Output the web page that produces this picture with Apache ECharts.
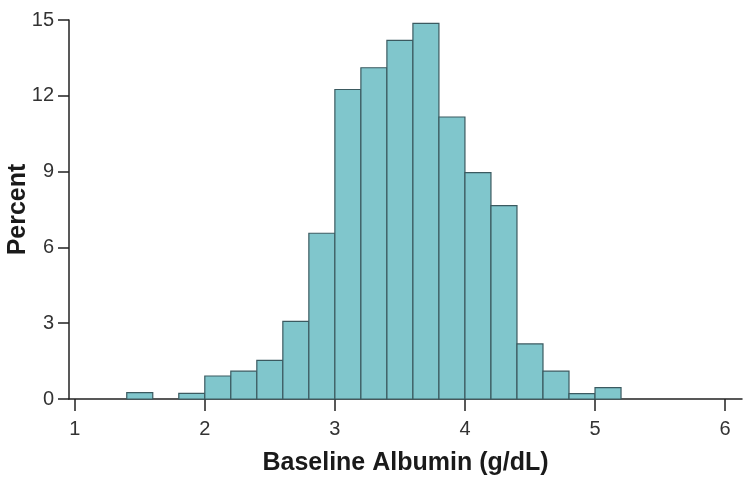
<!DOCTYPE html>
<html>
<head>
<meta charset="utf-8">
<script src="https://cdn.jsdelivr.net/npm/echarts@6/dist/echarts.min.js"></script>
<style>
  html, body { margin: 0; padding: 0; background: #fff; }
  #chart { width: 751px; height: 485px; }
</style>
</head>
<body>
<div id="chart"></div>
<script>
  // histogram bins (left edge, g/dL) and percent of patients
  const binStarts = [1.4, 1.8, 2.0, 2.2, 2.4, 2.6, 2.8, 3.0, 3.2, 3.4, 3.6, 3.8, 4.0, 4.2, 4.4, 4.6, 4.8, 5.0]
  const percents = [0.25, 0.22, 0.91, 1.1, 1.53, 3.07, 6.56, 12.25, 13.11, 14.19, 14.87, 11.16, 8.96, 7.65, 2.18, 1.1, 0.21, 0.45]
  const binWidth = 0.2
  const xTicks = [1, 2, 3, 4, 5, 6]
  const yTicks = [0, 3, 6, 9, 12, 15]

  const chart = echarts.init(document.getElementById('chart'), null, { renderer: 'canvas' })

  const axisColor = '#222'
  const font = 'Liberation Sans, Arial, sans-serif'

  const option = {
    animation: false,
    grid: { left: 69, right: 9, top: 20, bottom: 86, containLabel: false, outerBoundsMode: 'none' },
    xAxis: {
      type: 'value',
      min: 0.956,
      max: 6.13,
      name: 'Baseline Albumin (g/dL)',
      nameLocation: 'middle',
      nameGap: 52,
      nameTextStyle: { fontFamily: font, fontSize: 25, fontWeight: 'bold', color: '#1a1a1a' },
      splitLine: { show: false },
      axisLine: { lineStyle: { color: axisColor, width: 1.5 } },
      axisTick: { length: 12, customValues: xTicks, lineStyle: { color: axisColor, width: 1.5 } },
      axisLabel: { customValues: xTicks, margin: 20, fontFamily: font, fontSize: 20, color: '#333' }
    },
    yAxis: {
      type: 'value',
      min: 0,
      max: 15,
      interval: 3,
      name: 'Percent',
      nameLocation: 'middle',
      nameGap: 38,
      nameMoveOverlap: false,
      nameTextStyle: { fontFamily: font, fontSize: 25, fontWeight: 'bold', color: '#1a1a1a' },
      splitLine: { show: false },
      axisLine: { show: true, lineStyle: { color: axisColor, width: 1.5 } },
      axisTick: { show: true, length: 11, customValues: yTicks, lineStyle: { color: axisColor, width: 1.5 } },
      axisLabel: { customValues: yTicks, margin: 15, fontFamily: font, fontSize: 20, color: '#333' }
    },
    series: [
      {
        type: 'custom',
        data: binStarts.map((s, i) => [s, s + binWidth, percents[i]]),
        encode: { x: [0, 1], y: 2 },
        renderItem: (params, api) => {
          const p0 = api.coord([api.value(0), 0])
          const p1 = api.coord([api.value(1), api.value(2)])
          return {
            type: 'rect',
            shape: { x: p0[0], y: p1[1], width: p1[0] - p0[0], height: p0[1] - p1[1] },
            style: { fill: '#80c6cc', stroke: '#3b5a60', lineWidth: 1.2 }
          }
        }
      }
    ]
  }

  chart.setOption(option)
</script>
</body>
</html>
